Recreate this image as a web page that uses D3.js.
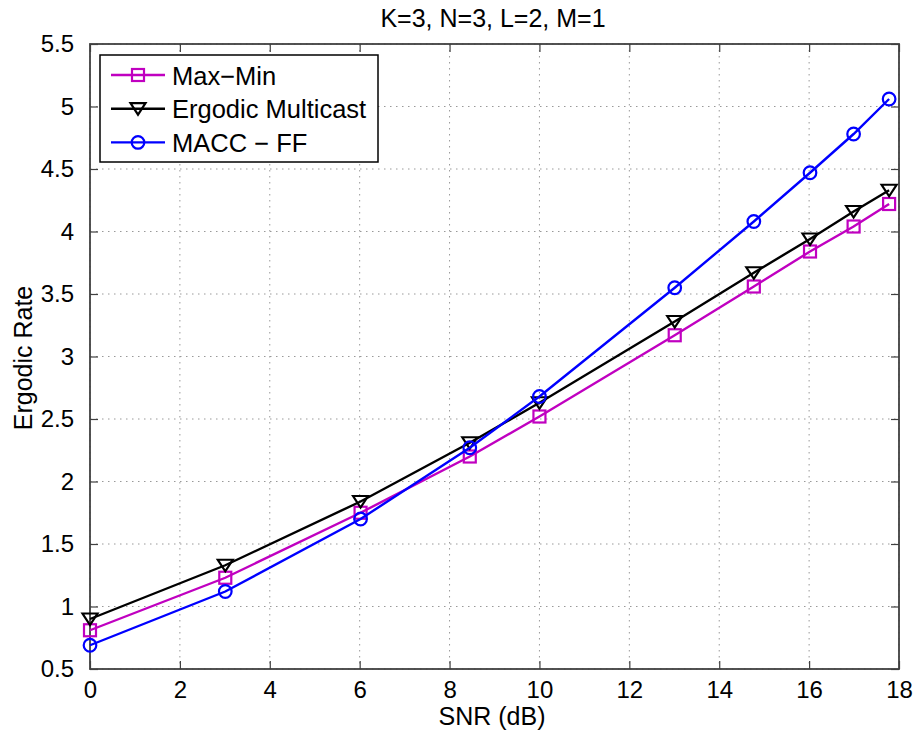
<!DOCTYPE html>
<html><head><meta charset="utf-8">
<script src="https://cdn.jsdelivr.net/npm/d3@7"></script>
<style>body{margin:0;background:#fff}svg{display:block}</style>
</head><body>
<svg id="c" width="917" height="736"></svg>
<script>
// ---- data ----
const snr = [0, 3.01, 6.02, 8.45, 10, 13.01, 14.77, 16.02, 16.99, 17.78];
const maxMin = [0.81, 1.23, 1.75, 2.20, 2.52, 3.17, 3.56, 3.84, 4.04, 4.22];
const ergodicMulticast = [0.90, 1.33, 1.84, 2.31, 2.63, 3.28, 3.67, 3.94, 4.16, 4.33];
const maccFF = [0.69, 1.12, 1.70, 2.27, 2.68, 3.55, 4.08, 4.47, 4.78, 5.06];
const seriesNames = ["Max\u2212Min", "Ergodic Multicast", "MACC \u2212 FF"];
const xTicks = [0, 2, 4, 6, 8, 10, 12, 14, 16, 18];
const yTicks = [0.5, 1, 1.5, 2, 2.5, 3, 3.5, 4, 4.5, 5, 5.5];
const titleText = "K=3, N=3, L=2, M=1";
const xLabel = "SNR (dB)";
const yLabel = "Ergodic Rate";

// ---- layout ----
const W = 917, H = 736;
const m = {left: 90, top: 44, right: 18, bottom: 67};
const iw = W - m.left - m.right, ih = H - m.top - m.bottom;
const FONT = "Liberation Sans, Arial, Helvetica, sans-serif";
const axisColor = "#404040";

const svg = d3.select("#c");
const x = d3.scaleLinear().domain([0, 18]).range([m.left, m.left + iw]);
const y = d3.scaleLinear().domain([0.5, 5.5]).range([m.top + ih, m.top]);

// grid
const grid = svg.append("g").attr("stroke", "#999").attr("stroke-width", 1)
  .attr("stroke-dasharray", "1.5,4.5");
grid.selectAll("line.v").data(xTicks).join("line").attr("class", "v")
  .attr("x1", d => x(d)).attr("x2", d => x(d)).attr("y1", m.top).attr("y2", m.top + ih);
grid.selectAll("line.h").data(yTicks).join("line").attr("class", "h")
  .attr("y1", d => y(d)).attr("y2", d => y(d)).attr("x1", m.left).attr("x2", m.left + iw);

// axes (inward ticks, all sides)
function styleAxis(g) {
  g.select(".domain").remove();
  g.selectAll(".tick line").attr("stroke", axisColor).attr("stroke-width", 1.2);
  g.selectAll(".tick text").attr("fill", "#000").style("font-family", FONT).style("font-size", "24px");
}
const tickLen = 8;
svg.append("g").attr("transform", `translate(0,${m.top + ih})`)
  .call(d3.axisBottom(x).tickValues(xTicks).tickFormat(d3.format("d")).tickSizeInner(-tickLen).tickSizeOuter(0).tickPadding(12))
  .call(styleAxis);
svg.append("g").attr("transform", `translate(0,${m.top})`)
  .call(d3.axisTop(x).tickValues(xTicks).tickFormat("").tickSizeInner(-tickLen).tickSizeOuter(0))
  .call(styleAxis);
svg.append("g").attr("transform", `translate(${m.left},0)`)
  .call(d3.axisLeft(y).tickValues(yTicks).tickFormat(d => String(d)).tickSizeInner(-tickLen).tickSizeOuter(0).tickPadding(16))
  .call(styleAxis);
svg.append("g").attr("transform", `translate(${m.left + iw},0)`)
  .call(d3.axisRight(y).tickValues(yTicks).tickFormat("").tickSizeInner(-tickLen).tickSizeOuter(0))
  .call(styleAxis);

svg.append("rect").attr("x", m.left).attr("y", m.top).attr("width", iw).attr("height", ih)
  .attr("fill", "none").attr("stroke", axisColor).attr("stroke-width", 1.8);

// series
const series = [
  {name: seriesNames[0], vals: maxMin, color: "#c000c0", marker: "square"},
  {name: seriesNames[1], vals: ergodicMulticast, color: "#000000", marker: "tri"},
  {name: seriesNames[2], vals: maccFF, color: "#0000ff", marker: "circle"}
];
const line = d3.line().x(d => x(d[0])).y(d => y(d[1]));

function drawMarker(g, type, cx, cy, color) {
  if (type === "square") {
    g.append("rect").attr("x", cx - 6).attr("y", cy - 6).attr("width", 12).attr("height", 12)
      .attr("fill", "none").attr("stroke", color).attr("stroke-width", 2.2);
  } else if (type === "circle") {
    g.append("circle").attr("cx", cx).attr("cy", cy).attr("r", 6.3)
      .attr("fill", "none").attr("stroke", color).attr("stroke-width", 2.2);
  } else {
    g.append("path").attr("d", `M${cx - 7.5},${cy - 5.5}L${cx + 7.5},${cy - 5.5}L${cx},${cy + 6}Z`)
      .attr("fill", "none").attr("stroke", color).attr("stroke-width", 2.2).attr("stroke-linejoin", "miter");
  }
}

series.forEach(s => {
  const pts = snr.map((v, i) => [v, s.vals[i]]);
  svg.append("path").datum(pts).attr("d", line).attr("fill", "none")
    .attr("stroke", s.color).attr("stroke-width", 2.4);
  const g = svg.append("g");
  pts.forEach(p => drawMarker(g, s.marker, x(p[0]), y(p[1]), s.color));
});

// legend
const lg = svg.append("g");
lg.append("rect").attr("x", 100).attr("y", 55).attr("width", 278).attr("height", 107)
  .attr("fill", "#fff").attr("stroke", "#000").attr("stroke-width", 1.5);
series.forEach((s, i) => {
  const cy = 75 + i * 33.7;
  lg.append("line").attr("x1", 111).attr("x2", 165).attr("y1", cy).attr("y2", cy)
    .attr("stroke", s.color).attr("stroke-width", 2.4);
  drawMarker(lg, s.marker, 138, cy, s.color);
  lg.append("text").attr("x", 172).attr("y", cy + 9.5).text(s.name)
    .style("font-family", FONT).style("font-size", "25.5px").attr("fill", "#000");
});

// title & labels
svg.append("text").attr("x", 493).attr("y", 26.5).attr("text-anchor", "middle")
  .style("font-family", FONT).style("font-size", "25px").text(titleText);
svg.append("text").attr("x", 492).attr("y", 725).attr("text-anchor", "middle")
  .style("font-family", FONT).style("font-size", "25px").text(xLabel);
svg.append("text").attr("transform", "translate(32,358) rotate(-90)").attr("text-anchor", "middle")
  .style("font-family", FONT).style("font-size", "25px").text(yLabel);
</script>
</body></html>
